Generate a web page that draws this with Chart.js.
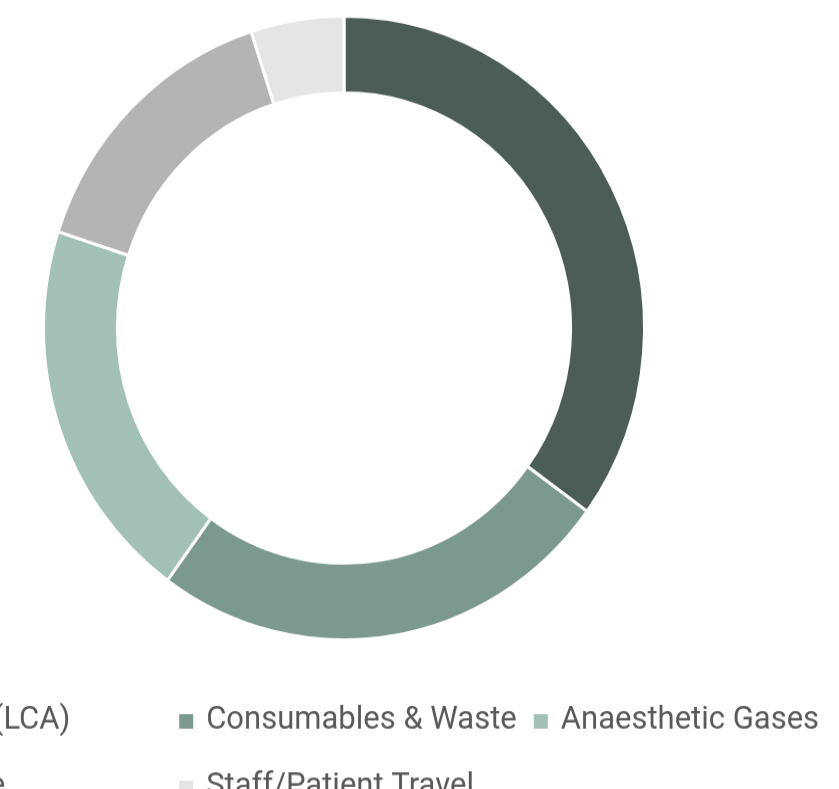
<!DOCTYPE html>
<html>
<head>
<meta charset="utf-8">
<script src="https://cdn.jsdelivr.net/npm/chart.js@4/dist/chart.umd.min.js"></script>
<style>
  html, body { margin: 0; padding: 0; background: #fff; overflow: hidden; width: 839px; height: 789px; }
  #wrap { position: absolute; left: -206px; top: 0; width: 1100px; height: 760px;
          transform: scaleY(1.038); transform-origin: 0 0; }
</style>
</head>
<body>
<div id="wrap"><canvas id="c" width="1100" height="760"></canvas></div>
<script>
// Share of the theatre carbon footprint by source (%)
const categories = ['Hardware (LCA)', 'Consumables & Waste', 'Anaesthetic Gases', 'Energy Use', 'Staff/Patient Travel'];
const shares = [35, 25, 20, 15, 5];
const sliceColours = ['#4b5d56', '#7b998f', '#a3c0b7', '#b4b4b4', '#e5e5e5'];

// Legend laid out in fixed-width columns under the ring
const gridLegend = {
  id: 'gridLegend',
  afterDraw(chart, args, opts) {
    const ctx = chart.ctx;
    const cx = chart.getDatasetMeta(0).data[0].x;
    const labels = chart.data.labels;
    const colours = chart.data.datasets[0].backgroundColor;
    ctx.save();
    ctx.font = opts.fontSize + 'px ' + opts.fontFamily;
    const widest = Math.max(...labels.map(l => ctx.measureText(l).width));
    const colW = opts.box + opts.gap + widest + opts.spacing;
    const startX = cx - (opts.columns * colW - opts.spacing) / 2 + opts.shiftX;
    labels.forEach((label, i) => {
      const col = i % opts.columns, row = Math.floor(i / opts.columns);
      const x = startX + col * colW;
      const base = opts.top + row * opts.rowHeight;
      ctx.fillStyle = colours[i];
      ctx.fillRect(x, base - opts.box, opts.box, opts.box);
      ctx.fillStyle = opts.color;
      ctx.textBaseline = 'alphabetic';
      ctx.fillText(label, x + opts.box + opts.gap, base);
    });
    ctx.restore();
  }
};

function draw() {
  new Chart(document.getElementById('c'), {
    type: 'doughnut',
    data: {
      labels: categories,
      datasets: [{
        data: shares,
        backgroundColor: sliceColours,
        borderColor: '#ffffff',
        borderWidth: 3,
        radius: 300.5,
        cutout: '75.4%'
      }]
    },
    options: {
      responsive: false,
      animation: false,
      layout: { padding: { top: 0, bottom: 128, left: 0, right: 0 } },
      plugins: {
        legend: { display: false },
        tooltip: { enabled: false },
        gridLegend: {
          fontSize: 31, fontFamily: 'Roboto, sans-serif', color: '#595959',
          box: 14, gap: 13, spacing: 17, columns: 3, top: 702, rowHeight: 64, shiftX: 4
        }
      }
    },
    plugins: [gridLegend]
  });
}

if (document.fonts && document.fonts.load) {
  document.fonts.load('31px Roboto').then(draw, draw);
} else {
  draw();
}
</script>
</body>
</html>
